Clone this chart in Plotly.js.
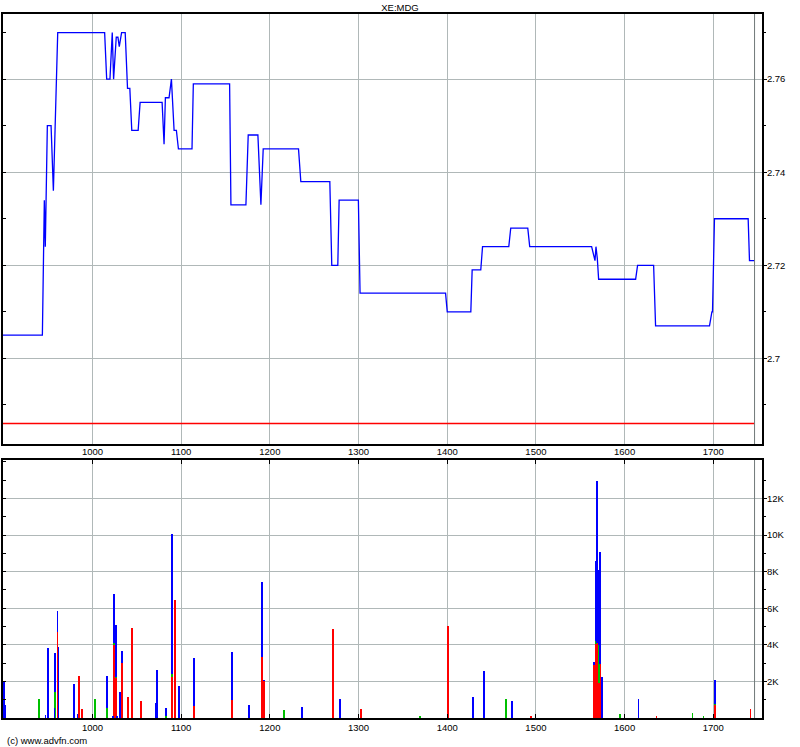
<!DOCTYPE html>
<html>
<head>
<meta charset="utf-8">
<script src="https://cdn.plot.ly/plotly-3.0.1.min.js"></script>
<style>html,body{margin:0;padding:0;background:#fff;}#chart{width:800px;height:747px;}</style>
</head>
<body>
<div id="chart"></div>
<script>
// ---- Price series (time index vs price) ----
var priceX = [899.1, 943.5, 945.7, 946.8, 949.1, 953.3, 955.9, 958.2, 960.8, 1013.7, 1016, 1019.7, 1022.3, 1023.8, 1026.8, 1028.7, 1030.2, 1032.8, 1036.9, 1039.5, 1042.1, 1044.3, 1051.5, 1053.7, 1078.5, 1080.7, 1082.2, 1086.3, 1089, 1092, 1094.6, 1096.9, 1112.2, 1113.7, 1154.6, 1156.1, 1173, 1175.6, 1186.5, 1189.9, 1192.5, 1232.3, 1234.9, 1267.6, 1269.8, 1276.6, 1278.1, 1299.8, 1301.7, 1398.1, 1400, 1426.6, 1428.1, 1437.8, 1439.8, 1469.4, 1471.6, 1490.8, 1493, 1562.8, 1566.6, 1567.7, 1569.2, 1570.7, 1612.4, 1614.6, 1632.7, 1634.9, 1695.7, 1698.4, 1699.1, 1701.3, 1739.3, 1740.8, 1746.8];
var priceY = [2.705, 2.705, 2.734, 2.724, 2.750, 2.750, 2.736, 2.755, 2.770, 2.770, 2.760, 2.760, 2.770, 2.760, 2.769, 2.769, 2.767, 2.770, 2.770, 2.758, 2.758, 2.749, 2.749, 2.755, 2.755, 2.746, 2.756, 2.756, 2.760, 2.749, 2.749, 2.745, 2.745, 2.759, 2.759, 2.733, 2.733, 2.748, 2.748, 2.733, 2.745, 2.745, 2.738, 2.738, 2.720, 2.720, 2.734, 2.734, 2.714, 2.714, 2.710, 2.710, 2.719, 2.719, 2.724, 2.724, 2.728, 2.728, 2.724, 2.724, 2.721, 2.724, 2.7215, 2.717, 2.717, 2.720, 2.720, 2.707, 2.707, 2.710, 2.710, 2.730, 2.730, 2.721, 2.721];
var prevClose = 2.686;
var nowX = 1746.5;

// ---- Volume series (stacked: red, green, blue) ----
var volX     = [900, 902, 940, 947, 950, 957, 958, 960.4, 961.5, 979, 983, 985, 988.5, 1003, 1016.7, 1023.4, 1024.5, 1026.5, 1027.6, 1031.3, 1033.6, 1040.3, 1044.8, 1055, 1071.8, 1073, 1083.1, 1089.9, 1093.2, 1097.7, 1114.6, 1157.4, 1176.6, 1191.2, 1193.5, 1216, 1236.3, 1271.2, 1279, 1302.7, 1369, 1400.7, 1428.8, 1441.2, 1466, 1472.7, 1494.6, 1565.3, 1567.6, 1568.7, 1570.9, 1572, 1574.3, 1594.4, 1615.8, 1636, 1676.5, 1689, 1702.2, 1741.9];
var volRed   = [0, 0, 0, 0, 0, 0, 0, 4680, 0, 0, 0, 2290, 490, 0, 0, 0, 3980, 2200, 0, 0, 3020, 1140, 4930, 920, 0, 0, 0, 2230, 6440, 0, 670, 980, 0, 3310, 2000, 0, 0, 4860, 0, 490, 0, 5020, 0, 0, 0, 0, 100, 2870, 4070, 4100, 1900, 2930, 0, 0, 0, 130, 0, 0, 700, 470];
var volGreen = [0, 0, 1030, 0, 0, 0, 1430, 0, 0, 0, 0, 0, 0, 1030, 520, 0, 100, 50, 0, 0, 0, 0, 0, 0, 0, 0, 100, 200, 0, 0, 0, 0, 0, 0, 0, 430, 0, 0, 0, 0, 100, 0, 0, 0, 1030, 0, 0, 0, 150, 0, 2100, 0, 0, 200, 0, 0, 300, 120, 80, 0];
var volBlue  = [2000, 700, 0, 150, 3800, 570, 2100, 1160, 3870, 1850, 200, 0, 0, 0, 1770, 100, 2690, 2830, 100, 1420, 640, 0, 0, 0, 810, 2620, 440, 7620, 0, 1760, 2620, 2620, 700, 4120, 80, 0, 610, 0, 1030, 0, 0, 0, 1140, 2560, 0, 920, 0, 180, 4370, 8850, 4070, 6140, 2230, 0, 1030, 0, 0, 0, 1290, 0];

// ---- Axis ticks ----
var volTickVals = [2000, 4000, 6000, 8000, 10000, 12000];
var volTickText = ['2K', '4K', '6K', '8K', '10K', '12K'];
var volMinorVals = [1000, 3000, 5000, 7000, 9000, 11000, 13000];
var volAllVals = [1000, 2000, 3000, 4000, 5000, 6000, 7000, 8000, 9000, 10000, 11000, 12000, 13000, 14000];

var xRange = [899.1, 1754.9];
var yRange = [2.6816, 2.774];
var vRange = [0, 14100];

var FONT = {family: 'Liberation Sans, Arial, sans-serif', size: 9.5, color: '#000'};
var GRID = '#b0b8b8';

var traces = [
  {x: priceX, y: priceY, type: 'scatter', mode: 'lines', line: {color: '#0000ff', width: 1.3}, xaxis: 'x', yaxis: 'y', hoverinfo: 'skip'},
  {x: volX, y: volRed, type: 'bar', width: 1.9, marker: {color: '#ff0000', line: {width: 0}}, xaxis: 'x2', yaxis: 'y2'},
  {x: volX, y: volGreen, type: 'bar', width: 1.9, marker: {color: '#00c000', line: {width: 0}}, xaxis: 'x2', yaxis: 'y2'},
  {x: volX, y: volBlue, type: 'bar', width: 1.9, marker: {color: '#0000ff', line: {width: 0}}, xaxis: 'x2', yaxis: 'y2'}
];

var layout = {
  width: 800, height: 747,
  margin: {l: 3, r: 38, t: 14, b: 29, pad: 0},
  paper_bgcolor: '#fff', plot_bgcolor: '#fff',
  showlegend: false, barmode: 'stack', bargap: 0,
  font: FONT,
  title: {text: 'XE:MDG', x: 0.5, xanchor: 'center', y: 1 - 8/747, yanchor: 'middle', font: FONT},
  xaxis: {domain: [0, 1], anchor: 'y', range: xRange, tick0: 1000, dtick: 100, showgrid: true, gridcolor: GRID, gridwidth: 1,
          zeroline: false, showline: true, linecolor: '#000', linewidth: 2, mirror: true, ticks: '', ticklabelstandoff: -2, tickfont: FONT},
  yaxis: {domain: [0.3892, 1], anchor: 'x', side: 'right', range: yRange, tick0: 2.70, dtick: 0.02,
          ticks: 'outside', ticklen: 3, tickcolor: '#000', tickwidth: 1, ticklabelstandoff: -2,
          minor: {dtick: 0.01, tick0: 2.70, ticks: 'outside', ticklen: 2, tickcolor: '#000', showgrid: false},
          showgrid: true, gridcolor: GRID, zeroline: false, showline: true, linecolor: '#000', linewidth: 2, mirror: true, tickfont: FONT},
  yaxis3: {overlaying: 'y', anchor: 'x', side: 'left', range: yRange, tick0: 2.70, dtick: 0.01, ticks: 'inside', ticklen: 3,
           tickcolor: '#000', showticklabels: false, showgrid: false, zeroline: false, showline: false},
  xaxis2: {domain: [0, 1], anchor: 'y2', range: xRange, tick0: 1000, dtick: 100, showgrid: true, gridcolor: GRID, gridwidth: 1,
           zeroline: false, showline: true, linecolor: '#000', linewidth: 2, mirror: 'ticks', ticks: 'inside', ticklen: 4, tickcolor: '#000', tickfont: FONT},
  yaxis2: {domain: [0, 0.3665], anchor: 'x2', side: 'right', range: vRange, tickmode: 'array', tickvals: volTickVals, ticktext: volTickText,
           ticks: 'outside', ticklen: 3, tickcolor: '#000', ticklabelstandoff: -2,
           minor: {tickmode: 'array', tickvals: volMinorVals, ticks: 'outside', ticklen: 2, tickcolor: '#000', showgrid: false},
           showgrid: true, gridcolor: GRID, zeroline: false, showline: true, linecolor: '#000', linewidth: 2, mirror: true, tickfont: FONT},
  yaxis4: {overlaying: 'y2', anchor: 'x2', side: 'left', range: vRange, tickmode: 'array', tickvals: volAllVals, ticks: 'inside', ticklen: 3,
           tickcolor: '#000', showticklabels: false, showgrid: false, zeroline: false, showline: false},
  shapes: [
    {type: 'line', xref: 'x', yref: 'y', x0: xRange[0], x1: nowX, y0: prevClose, y1: prevClose, line: {color: '#ff0000', width: 1.5}},
    {type: 'line', xref: 'x', yref: 'y domain', x0: nowX, x1: nowX, y0: 0, y1: 1, line: {color: '#707878', width: 1}},
    {type: 'line', xref: 'x2', yref: 'y2 domain', x0: nowX, x1: nowX, y0: 0, y1: 1, line: {color: '#707878', width: 1}}
  ],
  annotations: [
    {text: '(c) www.advfn.com', xref: 'paper', yref: 'paper', x: 0.003, y: -0.0313, xanchor: 'left', yanchor: 'middle', showarrow: false, font: FONT}
  ]
};

// invisible traces to register overlay axes
traces.push({x: [xRange[0]], y: [yRange[0]], type: 'scatter', mode: 'markers', marker: {opacity: 0}, xaxis: 'x', yaxis: 'y3', hoverinfo: 'skip'});
traces.push({x: [xRange[0]], y: [0], type: 'scatter', mode: 'markers', marker: {opacity: 0}, xaxis: 'x2', yaxis: 'y4', hoverinfo: 'skip'});

Plotly.newPlot('chart', traces, layout, {staticPlot: true, displayModeBar: false});
</script>
</body>
</html>
